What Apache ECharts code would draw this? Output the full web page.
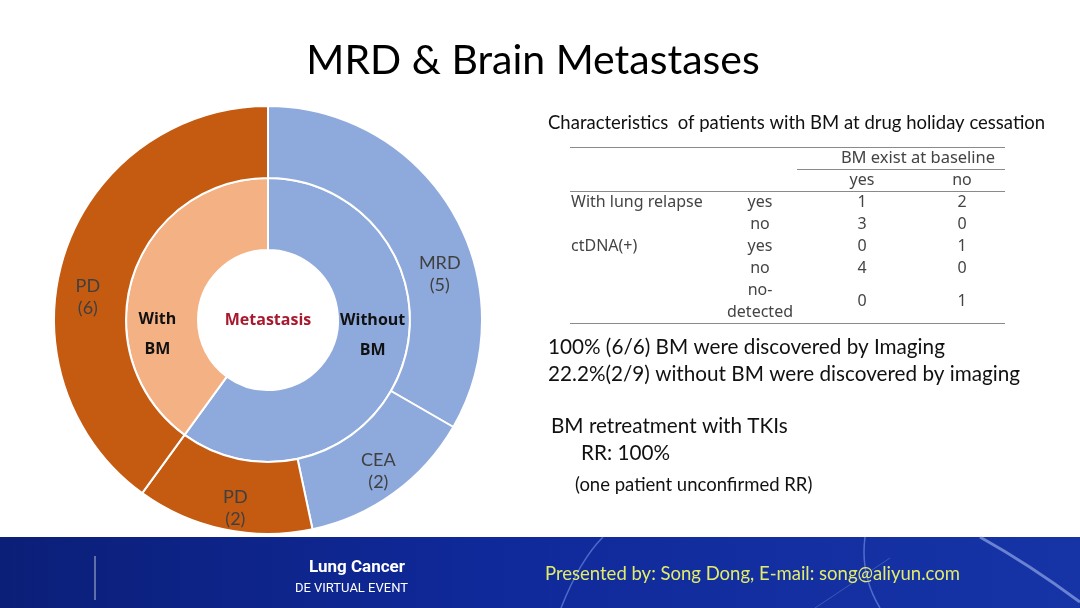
<!DOCTYPE html>
<html><head><meta charset="utf-8">
<script src="https://cdn.jsdelivr.net/npm/echarts@6/dist/echarts.min.js"></script>
<style>html,body{margin:0;padding:0;background:#fff}#c{width:1080px;height:608px}</style>
</head><body><div id="c"></div>
<script>
// ---- data ----
const innerNames = ['Without\nBM', 'With\nBM'];
const innerValues = [9, 6];
const outerNames = ['MRD\n(5)', 'CEA\n(2)', 'PD\n(2)', 'PD\n(6)'];
const outerValues = [5, 2, 2, 6];
const outerColors = ['#8EA9DB', '#8EA9DB', '#C55A11', '#C55A11'];
const innerColors = ['#8EA9DB', '#F4B183'];

const tableTitle = 'Characteristics  of patients with BM at drug holiday cessation';
const tableGroupHeader = 'BM exist at baseline';
const tableColHeaders = ['yes', 'no'];
const rowGroups = ['With lung relapse', '', 'ctDNA(+)', '', ''];
const rowSubs = ['yes', 'no', 'yes', 'no', 'no-\ndetected'];
const colYes = [1, 3, 0, 4, 0];
const colNo = [2, 0, 1, 0, 1];

const notes1 = ['100% (6/6) BM were discovered by Imaging', '22.2%(2/9) without BM were discovered by imaging'];
const notes2 = ['BM retreatment with TKIs', 'RR: 100%'];
const note3 = '(one patient unconfirmed RR)';

// label offsets (label placement like in the slide)
const outerLabelShift = [[15, 45], [4, 5], [5, 11], [-8, 33]];
const innerLabelShift = [[1, -18], [-7, 48]];

const FONT = 'Lato, "Open Sans", sans-serif';
const TFONT = '"Noto Sans", sans-serif';
const chart = echarts.init(document.getElementById('c'));

const g = [];
// title
g.push({type:'text', x:533, y:61, style:{text:'MRD & Brain Metastases', font:'41px ' + FONT, fill:'#000', align:'center', verticalAlign:'middle'}});
// table title
g.push({type:'text', x:548, y:123, style:{text:tableTitle, font:'18.5px ' + FONT, fill:'#111', verticalAlign:'middle'}});
// table lines
const lineStyle = {stroke:'#8a8a8a', lineWidth:1};
[[570,147,1005],[797,169,1005],[570,191,1005],[570,323,1005]].forEach(l=>{
  g.push({type:'line', shape:{x1:l[0], y1:l[1]+0.5, x2:l[2], y2:l[1]+0.5}, style:lineStyle});
});
const tFont = '16px ' + TFONT;
const tFill = '#444';
g.push({type:'text', x:918, y:158, style:{text:tableGroupHeader, font:'16.5px ' + TFONT, fill:tFill, align:'center', verticalAlign:'middle'}});
const colX = [862, 962];
tableColHeaders.forEach((h,i)=>g.push({type:'text', x:colX[i], y:180, style:{text:h, font:tFont, fill:tFill, align:'center', verticalAlign:'middle'}}));
rowGroups.forEach((r,i)=>{
  const y = i < 4 ? 202 + i*22 : 301;
  if (r) g.push({type:'text', x:571, y:y, style:{text:r, font:tFont, fill:tFill, verticalAlign:'middle'}});
  g.push({type:'text', x:760, y:y, style:{text:rowSubs[i], font:tFont, fill:tFill, align:'center', verticalAlign:'middle', lineHeight:22}});
  g.push({type:'text', x:colX[0], y:y, style:{text:String(colYes[i]), font:tFont, fill:tFill, align:'center', verticalAlign:'middle'}});
  g.push({type:'text', x:colX[1], y:y, style:{text:String(colNo[i]), font:tFont, fill:tFill, align:'center', verticalAlign:'middle'}});
});
// notes
notes1.forEach((t,i)=>g.push({type:'text', x:548, y:347 + i*27, style:{text:t, font:'20.7px ' + FONT, fill:'#111', verticalAlign:'middle'}}));
g.push({type:'text', x:551, y:426, style:{text:notes2[0], font:'20.7px ' + FONT, fill:'#111', verticalAlign:'middle'}});
g.push({type:'text', x:581, y:453, style:{text:notes2[1], font:'20.7px ' + FONT, fill:'#111', verticalAlign:'middle'}});
g.push({type:'text', x:575, y:485, style:{text:note3, font:'18.5px ' + FONT, fill:'#111', verticalAlign:'middle'}});

// footer banner
g.push({type:'rect', z:10, shape:{x:0, y:537, width:1080, height:71}, style:{fill:new echarts.graphic.LinearGradient(0,0,1,0,[{offset:0,color:'#0b1f78'},{offset:0.45,color:'#10299a'},{offset:1,color:'#1634a6'}])}});
// decorative curves inside banner
const curve = 'rgba(150,185,255,0.45)';
g.push({type:'bezierCurve', z:11, shape:{x1:603, y1:537, x2:561, y2:608, cpx1:580, cpy1:560}, style:{stroke:curve, lineWidth:1.5, fill:null}});
g.push({type:'bezierCurve', z:11, shape:{x1:865, y1:537, x2:880, y2:608, cpx1:860, cpy1:575}, style:{stroke:curve, lineWidth:1.5, fill:null}});
g.push({type:'line', z:11, shape:{x1:815, y1:608, x2:890, y2:558}, style:{stroke:'rgba(150,185,255,0.3)', lineWidth:1}});
g.push({type:'bezierCurve', z:11, shape:{x1:980, y1:537, x2:1080, y2:602, cpx1:1030, cpy1:565}, style:{stroke:'rgba(190,210,255,0.5)', lineWidth:3, fill:null}});
g.push({type:'line', z:11, shape:{x1:95, y1:556, x2:95, y2:600}, style:{stroke:'rgba(255,255,255,0.7)', lineWidth:1}});
g.push({type:'text', z:12, x:405, y:568, style:{text:'Lung Cancer', font:'bold 17px Roboto, sans-serif', fill:'#fff', align:'right', verticalAlign:'middle'}});
g.push({type:'text', z:12, x:408, y:589, style:{text:'DE VIRTUAL EVENT', font:'13px Roboto, sans-serif', fill:'#fff', align:'right', verticalAlign:'middle'}});
g.push({type:'text', z:12, x:545, y:574, style:{text:'Presented by: Song Dong, E-mail: song@aliyun.com', font:'18.5px ' + FONT, fill:'#E2EC6A', verticalAlign:'middle'}});

function shiftLayout(shifts){
  return function(p){ const s = shifts[p.dataIndex]; return {dx:s[0], dy:s[1]}; };
}

chart.setOption({
  animation:false,
  graphic:g,
  series:[
    {type:'pie', center:[268,320], radius:[70,142], startAngle:90, clockwise:true, silent:true,
     itemStyle:{borderColor:'#fff', borderWidth:2},
     label:{position:'inside', fontFamily:'"Open Sans", sans-serif', fontWeight:'bold', fontSize:16, color:'#111', lineHeight:30, formatter:'{b}'},
     labelLayout:shiftLayout(innerLabelShift),
     data:innerValues.map((v,i)=>({value:v, name:innerNames[i], itemStyle:{color:innerColors[i]}}))},
    {type:'pie', center:[268,320], radius:[142,214], startAngle:90, clockwise:true, silent:true,
     itemStyle:{borderColor:'#fff', borderWidth:2},
     label:{position:'inside', fontFamily:FONT, fontSize:18, color:'#404040', lineHeight:22, formatter:'{b}'},
     labelLayout:shiftLayout(outerLabelShift),
     data:outerValues.map((v,i)=>({value:v, name:outerNames[i], itemStyle:{color:outerColors[i]}}))},
    {type:'pie', center:[268,320], radius:[0,0], silent:true, data:[{value:1, name:'Metastasis'}],
     label:{position:'center', fontFamily:'"Open Sans", sans-serif', fontWeight:'bold', fontSize:16, color:'#A8192E', formatter:'{b}'}, labelLine:{show:false}}
  ]
});
</script></body></html>
